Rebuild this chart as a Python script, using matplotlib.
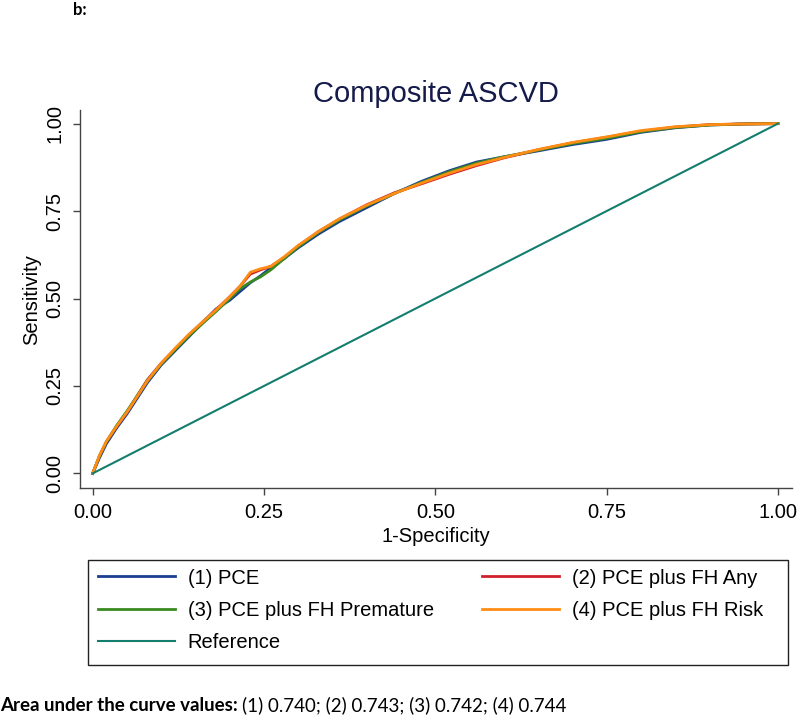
import matplotlib
matplotlib.use("Agg")
import matplotlib.pyplot as plt
from matplotlib.patches import Rectangle

plt.rcParams['font.family'] = ['Liberation Sans', 'DejaVu Sans']

# 1-Specificity (shared grid) and sensitivity for each model
fpr = [0, 0.01, 0.02, 0.035, 0.05, 0.065, 0.08, 0.1, 0.12, 0.14, 0.16, 0.18,
       0.2, 0.215, 0.23, 0.245, 0.26, 0.28, 0.3, 0.33, 0.36, 0.4, 0.44, 0.48,
       0.52, 0.56, 0.6, 0.65, 0.7, 0.75, 0.8, 0.85, 0.9, 0.95, 1.0]

sens_pce = [0, 0.045, 0.085, 0.13, 0.17, 0.215, 0.26, 0.31, 0.35, 0.39, 0.43, 0.47,
            0.495, 0.52, 0.545, 0.565, 0.588, 0.615, 0.645, 0.685, 0.72, 0.76, 0.80, 0.835,
            0.865, 0.89, 0.905, 0.922, 0.94, 0.955, 0.975, 0.988, 0.996, 0.999, 1.0]
sens_any = [0, 0.05, 0.09, 0.135, 0.175, 0.222, 0.268, 0.315, 0.355, 0.395, 0.432, 0.468,
            0.505, 0.535, 0.57, 0.582, 0.592, 0.618, 0.65, 0.692, 0.727, 0.768, 0.802, 0.828,
            0.855, 0.88, 0.902, 0.925, 0.945, 0.961, 0.978, 0.99, 0.997, 0.999, 1.0]
sens_prem = [0, 0.05, 0.09, 0.137, 0.178, 0.222, 0.266, 0.313, 0.353, 0.392, 0.428, 0.463,
             0.50, 0.528, 0.547, 0.562, 0.582, 0.615, 0.648, 0.69, 0.725, 0.765, 0.80, 0.832,
             0.862, 0.887, 0.905, 0.924, 0.943, 0.958, 0.977, 0.989, 0.996, 0.999, 1.0]
sens_risk = [0, 0.052, 0.092, 0.135, 0.175, 0.22, 0.265, 0.315, 0.357, 0.397, 0.432, 0.467,
             0.505, 0.535, 0.575, 0.585, 0.592, 0.62, 0.652, 0.692, 0.728, 0.767, 0.80, 0.83,
             0.858, 0.883, 0.903, 0.926, 0.946, 0.962, 0.98, 0.991, 0.997, 0.999, 1.0]

labels = ['(1) PCE', '(2) PCE plus FH Any', '(3) PCE plus FH Premature',
          '(4) PCE plus FH Risk', 'Reference']
colors = ['#1a3f8f', '#d0202a', '#3a8a20', '#ff8c14', '#137d6e']
ticks = [0, 0.25, 0.5, 0.75, 1.0]
tick_labels = ['0.00', '0.25', '0.50', '0.75', '1.00']
auc_text = '(1) 0.740; (2) 0.743; (3) 0.742; (4) 0.744'

fig = plt.figure(figsize=(8, 7.21), dpi=100)
ax = fig.add_axes([0.1, 0.323, 0.89, 0.524])

h1, = ax.plot(fpr, sens_pce, color=colors[0], lw=2.0)
h2, = ax.plot(fpr, sens_any, color=colors[1], lw=2.0)
h3, = ax.plot(fpr, sens_prem, color=colors[2], lw=2.0)
h4, = ax.plot(fpr, sens_risk, color=colors[3], lw=2.0)
h5, = ax.plot([0, 1], [0, 1], color=colors[4], lw=1.5)

ax.set_xlim(-0.0185, 1.0205)
ax.set_ylim(-0.042, 1.038)
ax.spines['top'].set_visible(False)
ax.spines['right'].set_visible(False)
for s in ['left', 'bottom']:
    ax.spines[s].set_color('#444444')
    ax.spines[s].set_linewidth(1.0)

ax.set_xticks(ticks)
ax.set_xticklabels(tick_labels, fontsize=14.5)
ax.set_yticks(ticks)
ax.set_yticklabels(tick_labels, fontsize=14.5, rotation=90, va='center')
ax.tick_params(direction='out', length=5, width=1.0, color='#444444', pad=6)

ax.set_xlabel('1-Specificity', fontsize=14.5, labelpad=3)
ax.set_ylabel('Sensitivity', fontsize=14.5, labelpad=3)
ax.set_title('Composite ASCVD', fontsize=21, color='#141a4a', pad=6)

fig.text(0.091, 0.997, 'b:', fontsize=12, fontweight='bold', va='top',
         family=['Lato', 'DejaVu Sans'])

# row order as in the reference: left column (1), (3), Reference; right (2), (4)
handles = [h1, h2, h3, h4, h5]
order = [0, 2, 4, 1, 3]
leg = fig.legend([handles[i] for i in order], [labels[i] for i in order], ncol=2,
                 loc='upper left', bbox_to_anchor=(98 / 800, 1 - 568.5 / 721),
                 borderaxespad=0, borderpad=0, frameon=False,
                 fontsize=14.5, handlelength=3.8, handletextpad=0.65,
                 labelspacing=0.67, columnspacing=2.4)

# Stata-style legend box, wider on the right than the entries
fig.patches.append(Rectangle((88 / 800, 1 - 665 / 721), 700 / 800, 105 / 721,
                             transform=fig.transFigure, fill=False,
                             edgecolor='#222222', lw=1.0))

t1 = fig.text(0.0, 0.014, 'Area under the curve values:', fontsize=13.5,
              fontweight='bold', family=['Lato', 'DejaVu Sans'], va='baseline')
fig.canvas.draw()
bb = t1.get_window_extent()
x_end = bb.x1 / fig.bbox.width
fig.text(x_end + 0.005, 0.014, auc_text,
         fontsize=13.5, family=['Lato', 'DejaVu Sans'], va='baseline')

fig.savefig('out.png', dpi=100)
